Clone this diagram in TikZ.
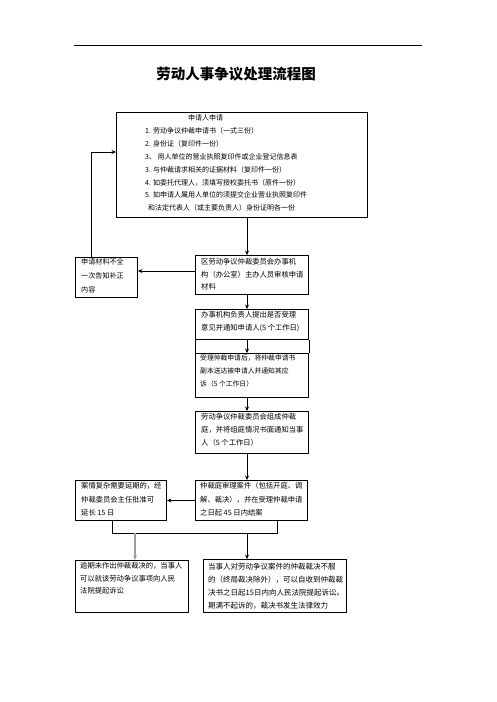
\documentclass[tikz,border=0pt]{standalone}
\usepackage{fontspec}
\newfontfamily\cjk{Noto Sans CJK SC}
\usetikzlibrary{arrows.meta,calc}
\begin{document}
\begin{tikzpicture}[x=1pt,y=-1pt,
  box/.style={draw=black,line width=0.9pt,inner sep=0pt,anchor=north west},
  txt/.style={inner sep=0pt,anchor=north west,align=left,font=\cjk\fontsize{7.3}{13}\selectfont},
  arr/.style={line width=0.8pt,-{Stealth[length=4.5pt,width=4pt]}},
  ln/.style={line width=0.8pt}]
\useasboundingbox (0,0) rectangle (496,702);
\fill[white] (0,0) rectangle (496,702);
% header rule and title
\coordinate (rl) at (74,45);
\coordinate (rr) at (422,45);
\draw[line width=0.7pt] (rl) -- (rr);
\node[font=\cjk\bfseries\fontsize{14.5}{16}\selectfont,inner sep=0pt] (title) at (236,74) {劳动人事争议处理流程图};
% boxes
\node[box,minimum width=251pt,minimum height=105pt] (top) at (116,112) {};
\node[box,minimum width=113pt,minimum height=39pt] (b2) at (195,255) {};
\node[box,minimum width=62pt,minimum height=40pt] (l1) at (75,257) {};
\node[box,minimum width=113pt,minimum height=30pt] (b3) at (195,309) {};
\node[box,minimum width=113pt,minimum height=44pt] (b4) at (195,353) {};
\node[box,minimum width=113pt,minimum height=42pt] (b5) at (195,411) {};
\node[box,minimum width=112pt,minimum height=40pt] (b6) at (195,480) {};
\node[box,minimum width=91pt,minimum height=40pt] (l2) at (75,480) {};
\node[box,minimum width=113pt,minimum height=52pt] (bl) at (75,560) {};
\node[box,minimum width=143pt,minimum height=53pt] (br) at (203,559) {};
% texts
\node[txt,font=\cjk\fontsize{7}{12.86}\selectfont] (ttop) at (145,114.7) {\hspace*{43pt}申请人申请\\
1. 劳动争议仲裁申请书（一式三份）\\
2. 身份证（复印件一份）\\
3、 用人单位的营业执照复印件或企业登记信息表\\
3. 与仲裁请求相关的证据材料（复印件一份）\\
4. 如委托代理人，须填写授权委托书（原件一份）\\
5. 如申请人属用人单位的须提交企业营业执照复印件\\
\hspace*{3pt}和法定代表人（或主要负责人）身份证明各一份};
\node[txt,font=\cjk\fontsize{7.3}{12.5}\selectfont] (t2) at (201,258.5) {区劳动争议仲裁委员会办事机\\构（办公室）主办人员审核申请\\材料};
\node[txt,font=\cjk\fontsize{7.1}{14}\selectfont] (tl1) at (81,258.5) {申请材料不全\\一次告知补正\\内容};
\node[txt] (t3) at (201,311.5) {办事机构负责人提出是否受理\\意见并通知申请人(5 个工作日)};
\node[txt,font=\cjk\fontsize{6.8}{13}\selectfont] (t4) at (200,354.9) {受理仲裁申请后，将仲裁申请书\\副本送达被申请人并通知其应\\诉（5 个工作日）};
\node[txt] (t5) at (201,413.5) {劳动争议仲裁委员会组成仲裁\\庭，并将组庭情况书面通知当事\\人（5 个工作日）};
\node[txt,font=\cjk\fontsize{7.3}{13.5}\selectfont] (t6) at (200,482.5) {仲裁庭审理案件（包括开庭、调\\解、裁决），并在受理仲裁申请\\之日起 45 日内结案};
\node[txt,font=\cjk\fontsize{7.3}{13.5}\selectfont] (tl2) at (81,482.5) {案情复杂需要延期的，经\\仲裁委员会主任批准可\\延长 15 日};
\node[txt,font=\cjk\fontsize{7.3}{12.5}\selectfont] (tbl) at (80,562.5) {逾期未作出仲裁裁决的，当事人\\可以就该劳动争议事项向人民\\法院提起诉讼};
\node[txt,font=\cjk\fontsize{7.5}{13}\selectfont] (tbr) at (208,562.5) {当事人对劳动争议案件的仲裁裁决不服\\的（终局裁决除外），可以自收到仲裁裁\\决书之日起15日内向人民法院提起诉讼。\\期满不起诉的，裁决书发生法律效力};
% helper coordinates
\coordinate (cx) at (247,0);
\coordinate (ca) at (91,152);
\coordinate (cy1) at (0,271);
\coordinate (cl) at (112,533);
\coordinate (cr) at (277,533);
\coordinate (cg) at (135,533);
% connectors
\draw[arr] (top.south -| cx) -- (b2.north -| cx);
\draw[arr] (b2.west |- cy1) -- (l1.east |- cy1);
\draw[arr] (l1.north -| ca) -- (ca) -- (top.west |- ca);
\draw[arr] (b2.south -| cx) -- (b3.north -| cx);
\draw[ln] (b3.south west) -- (b4.north west);
\draw[ln] (b3.south east) -- (b4.north east);
\draw[arr] (b3.south -| cx) -- (b4.north -| cx);
\draw[arr] (b4.south -| cx) -- (b5.north -| cx);
\draw[arr] (b5.south -| cx) -- (b6.north -| cx);
\draw[arr] (b6.west) -- (l2.east);
\draw[ln] (l2.south -| cl) -- (cl) -- (cr) -- (b6.south -| cr);
\draw[arr,draw=gray!75,fill=gray!75,line width=1.4pt] (cg) -- (bl.north -| cg);
\draw[arr] (cx |- cl) -- (br.north -| cx);
\end{tikzpicture}
\end{document}
